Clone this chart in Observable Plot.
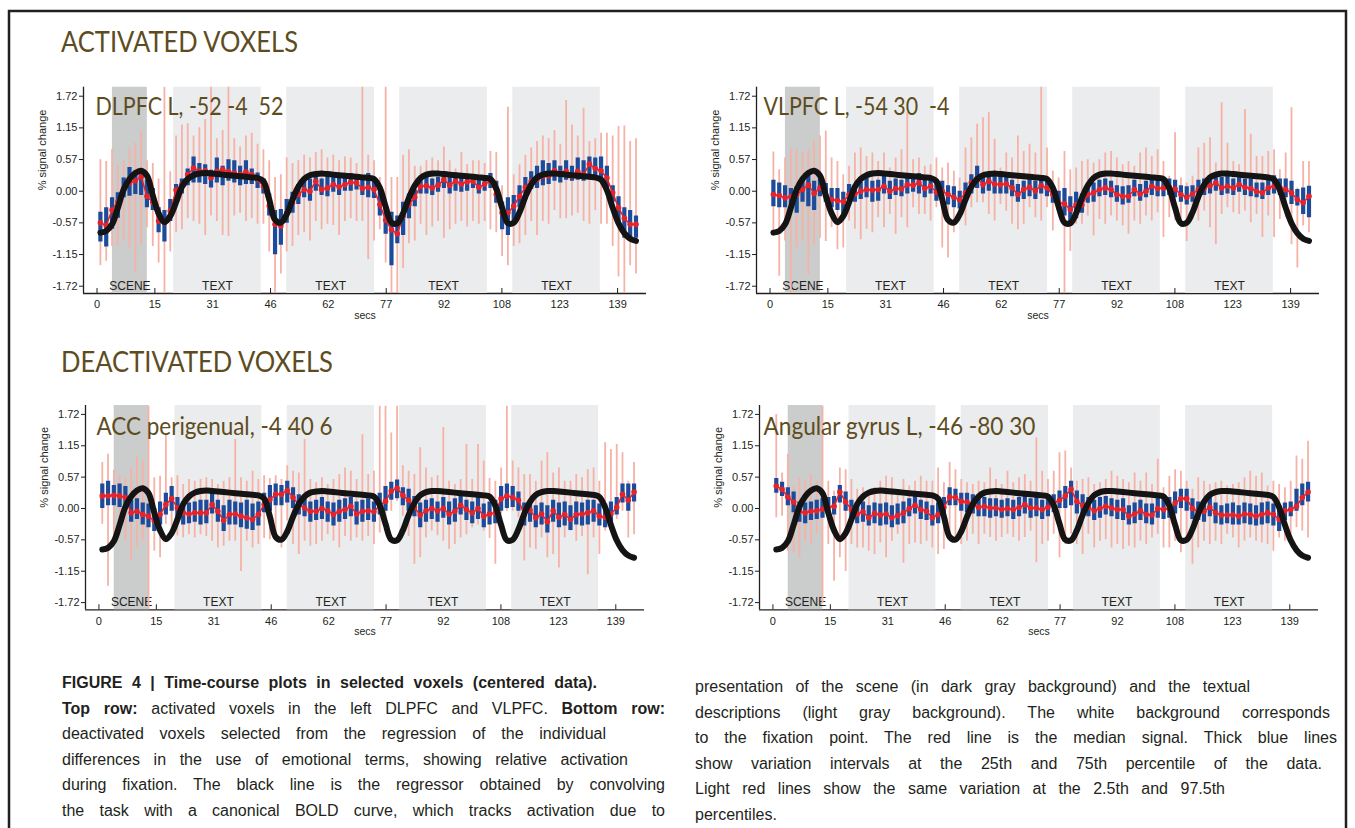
<!DOCTYPE html>
<html>
<head>
<meta charset="utf-8">
<script src="https://cdn.jsdelivr.net/npm/d3@7"></script>
<script src="https://cdn.jsdelivr.net/npm/@observablehq/plot@0.6"></script>
<style>
  html, body { margin: 0; padding: 0; background: #fff; }
  #page { position: relative; width: 1355px; height: 828px; overflow: hidden; background: #fff; }
  .abs { position: absolute; }
  .cap { position: absolute; font-family: "Liberation Sans", Arial, sans-serif; font-size: 16px; line-height: 20px;
         color: #231f20; white-space: nowrap; text-align: justify; text-align-last: justify; }
  .cap.nj { text-align: left; text-align-last: left; }
  .cap b { font-weight: bold; }
</style>
</head>
<body>
<div id="page">
  <svg class="abs" style="left:0;top:0" width="1355" height="828">
    <path d="M9,840 V11 H1346 V840" fill="none" stroke="#231f20" stroke-width="2.5"/>
    <text x="61" y="52" font-family="Lato" font-size="28" fill="#5e4c21" textLength="237" lengthAdjust="spacingAndGlyphs">ACTIVATED VOXELS</text>
    <text x="61" y="372" font-family="Lato" font-size="28" fill="#5e4c21" textLength="272" lengthAdjust="spacingAndGlyphs">DEACTIVATED VOXELS</text>
  </svg>
  <div id="p1" class="abs" style="left:0px;top:80px"></div>
  <div id="p2" class="abs" style="left:673px;top:80px"></div>
  <div id="p3" class="abs" style="left:2px;top:398px"></div>
  <div id="p4" class="abs" style="left:676px;top:398px"></div>

  <div class="cap" style="left:62px;top:673px;width:535px"><b>FIGURE 4 | Time-course plots in selected voxels (centered data).</b></div>
  <div class="cap" style="left:62px;top:699px;width:603px"><b>Top row:</b> activated voxels in the left DLPFC and VLPFC. <b>Bottom row:</b></div>
  <div class="cap" style="left:62px;top:724px;width:544px">deactivated voxels selected from the regression of the individual</div>
  <div class="cap" style="left:62px;top:750px;width:566px">differences in the use of emotional terms, showing relative activation</div>
  <div class="cap" style="left:62px;top:775px;width:603px">during fixation. The black line is the regressor obtained by convolving</div>
  <div class="cap" style="left:62px;top:801px;width:603px">the task with a canonical BOLD curve, which tracks activation due to</div>

  <div class="cap" style="left:695px;top:677px;width:555px">presentation of the scene (in dark gray background) and the textual</div>
  <div class="cap" style="left:695px;top:703px;width:635px">descriptions (light gray background). The white background corresponds</div>
  <div class="cap" style="left:695px;top:728px;width:642px">to the fixation point. The red line is the median signal. Thick blue lines</div>
  <div class="cap" style="left:695px;top:754px;width:627px">show variation intervals at the 25th and 75th percentile of the data.</div>
  <div class="cap" style="left:695px;top:779px;width:530px">Light red lines show the same variation at the 2.5th and 97.5th</div>
  <div class="cap nj" style="left:695px;top:805px">percentiles.</div>
</div>
<script>
// ---------- data ----------
const time = [0.9,2.45,4.0,5.55,7.1,8.65,10.2,11.75,13.3,14.85,
16.4,17.95,19.5,21.05,22.6,24.15,25.7,27.25,28.8,30.35,
31.9,33.45,35.0,36.55,38.1,39.65,41.2,42.75,44.3,45.85,
47.4,48.95,50.5,52.05,53.6,55.15,56.7,58.25,59.8,61.35,
62.9,64.45,66.0,67.55,69.1,70.65,72.2,73.75,75.3,76.85,
78.4,79.95,81.5,83.05,84.6,86.15,87.7,89.25,90.8,92.35,
93.9,95.45,97.0,98.55,100.1,101.65,103.2,104.75,106.3,107.85,
109.4,110.95,112.5,114.05,115.6,117.15,118.7,120.25,121.8,123.35,
124.9,126.45,128.0,129.55,131.1,132.65,134.2,135.75,137.3,138.85,
140.4,141.95,143.5];

const regressor = [-0.75,-0.72,-0.60,-0.30,0.03,0.22,0.33,0.37,0.28,-0.08,
-0.40,-0.56,-0.45,-0.20,0.08,0.22,0.29,0.32,0.33,0.32,
0.31,0.30,0.29,0.28,0.27,0.26,0.25,0.24,0.18,-0.15,
-0.52,-0.57,-0.42,-0.15,0.08,0.22,0.29,0.31,0.32,0.31,
0.30,0.29,0.28,0.27,0.26,0.25,0.24,0.22,0.06,-0.28,
-0.57,-0.58,-0.40,-0.12,0.10,0.24,0.30,0.32,0.32,0.31,
0.30,0.29,0.28,0.27,0.26,0.25,0.24,0.22,0.05,-0.30,
-0.58,-0.57,-0.38,-0.10,0.12,0.25,0.30,0.32,0.32,0.31,
0.30,0.29,0.28,0.27,0.26,0.25,0.21,0.02,-0.30,-0.58,
-0.76,-0.86,-0.90];

// DLPFC L
const dlpfcMed = [-0.57,-0.62,-0.34,-0.19,0.05,0.15,0.19,0.26,-0.09,-0.20,
-0.54,-0.57,-0.36,0.02,0.12,0.30,0.42,0.36,0.37,0.24,
0.36,0.39,0.35,0.33,0.30,0.35,0.30,0.21,0.09,-0.27,
-0.60,-0.63,-0.39,-0.21,-0.06,0.03,0.00,0.18,0.03,0.06,
0.12,0.08,0.12,0.16,0.15,0.05,0.07,0.03,-0.24,-0.52,
-0.70,-0.77,-0.45,-0.24,-0.11,0.09,0.10,0.06,0.11,0.21,
0.11,0.18,0.13,0.17,0.18,0.07,0.13,0.18,-0.06,-0.39,
-0.39,-0.27,-0.09,0.07,0.18,0.21,0.27,0.28,0.37,0.33,
0.36,0.27,0.36,0.30,0.49,0.41,0.37,0.24,-0.03,-0.30,
-0.49,-0.60,-0.60];
const dlpfcQ3 = [-0.38,-0.30,-0.12,-0.03,0.24,0.43,0.36,0.40,0.20,0.05,
-0.30,-0.35,-0.15,0.12,0.22,0.40,0.62,0.50,0.48,0.38,
0.60,0.45,0.57,0.55,0.45,0.55,0.40,0.33,0.22,-0.05,
-0.35,-0.33,-0.15,-0.02,0.12,0.20,0.22,0.30,0.22,0.25,
0.30,0.25,0.32,0.32,0.30,0.28,0.32,0.22,-0.02,-0.33,
-0.38,-0.45,-0.20,-0.05,0.02,0.25,0.25,0.22,0.25,0.35,
0.30,0.33,0.28,0.30,0.30,0.28,0.28,0.32,0.18,-0.20,
-0.12,-0.08,0.10,0.25,0.35,0.45,0.55,0.50,0.55,0.45,
0.55,0.45,0.60,0.55,0.62,0.60,0.62,0.45,0.10,-0.10,
-0.30,-0.35,-0.45];
const dlpfcQ1 = [-0.92,-1.01,-0.69,-0.49,-0.12,-0.09,-0.06,-0.08,-0.30,-0.35,
-0.75,-0.92,-0.55,-0.15,-0.05,0.10,0.15,0.15,0.12,0.06,
0.15,0.10,0.18,0.15,0.10,0.12,0.12,0.05,-0.05,-0.45,
-1.15,-0.98,-0.58,-0.40,-0.24,-0.12,-0.18,0.00,-0.08,-0.10,
-0.02,-0.08,0.00,0.00,0.02,-0.08,-0.12,-0.13,-0.45,-0.78,
-1.35,-0.95,-0.80,-0.50,-0.28,-0.05,-0.05,-0.08,-0.02,0.05,
-0.05,0.00,-0.02,0.00,0.05,-0.05,0.00,0.05,-0.22,-0.70,
-0.80,-0.55,-0.30,-0.05,0.03,0.05,0.10,0.12,0.18,0.15,
0.20,0.18,0.20,0.18,0.25,0.20,0.18,0.05,-0.20,-0.60,
-0.85,-0.90,-0.85];
const dlpfcHi = [0.57,0.54,0.75,0.45,0.55,0.78,0.87,1.09,0.55,0.50,
0.22,1.90,0.35,1.00,1.20,1.22,1.00,1.15,1.30,1.90,
0.95,1.10,1.90,0.95,0.80,1.00,1.05,0.85,0.75,0.55,
0.25,0.30,0.60,0.50,0.55,0.65,0.60,0.70,0.75,0.60,
0.65,0.55,0.62,0.60,0.50,1.90,0.65,0.55,0.25,1.90,
0.25,0.25,0.65,0.75,0.45,0.45,0.55,0.60,0.55,0.80,
0.55,0.40,0.70,0.48,0.55,0.55,0.50,0.72,0.70,0.10,
1.52,0.30,0.48,0.65,0.78,0.90,1.00,0.95,1.10,0.85,
1.64,1.20,1.00,1.50,0.90,0.95,1.05,1.05,1.00,1.17,
1.18,0.90,0.95];
const dlpfcLo = [-1.35,-1.27,-1.00,-1.00,-0.88,-1.03,-1.48,-0.97,-0.66,-1.00,
-1.30,-1.90,-1.10,-0.75,-0.70,-0.50,-0.55,-0.60,-0.80,-0.45,
-0.55,-0.80,-0.82,-0.45,-0.40,-0.55,-0.50,-0.60,-0.60,-1.10,
-1.90,-1.50,-1.10,-1.00,-0.80,-0.75,-0.90,-0.55,-0.70,-0.60,
-0.62,-0.80,-0.55,-0.50,-0.55,-0.55,-1.24,-0.90,-0.70,-1.30,
-1.90,-1.90,-1.40,-0.95,-0.90,-0.60,-0.80,-0.65,-0.55,-0.85,
-0.70,-0.60,-0.55,-0.65,-0.55,-0.60,-0.55,-0.70,-0.75,-1.18,
-1.35,-1.00,-0.95,-0.80,-0.55,-0.80,-0.55,-0.60,-0.35,-0.50,
-0.50,-0.45,-0.40,-0.55,-0.60,-0.35,-0.60,-0.60,-1.00,-1.55,
-1.90,-1.35,-1.50];

// VLPFC L
const vlpfcMed = [-0.06,-0.08,-0.12,-0.10,-0.06,0.03,0.11,-0.04,0.06,-0.08,
-0.15,-0.17,-0.19,-0.06,-0.05,0.00,0.03,0.02,0.03,0.09,
0.00,0.05,0.04,0.12,0.11,0.15,0.05,0.09,-0.02,0.00,
-0.06,-0.11,-0.16,-0.03,0.15,0.24,0.12,0.18,0.13,0.12,
0.13,0.06,-0.06,0.03,0.07,0.01,0.10,0.06,-0.06,-0.21,
-0.23,-0.33,-0.24,-0.25,-0.06,-0.03,0.03,0.06,0.03,-0.06,
-0.09,-0.09,0.03,-0.05,0.00,0.09,0.05,0.06,0.07,0.04,
-0.06,-0.11,-0.05,0.03,0.06,0.10,0.15,0.06,0.09,0.06,
0.12,0.07,0.05,0.00,-0.03,0.06,0.09,0.07,0.03,-0.03,
-0.15,-0.21,-0.09];
const vlpfcQ3 = [0.20,0.15,0.10,0.05,0.08,0.22,0.28,0.18,0.22,0.14,
0.05,0.05,-0.02,0.12,0.10,0.16,0.25,0.18,0.20,0.28,
0.18,0.22,0.20,0.30,0.25,0.32,0.22,0.25,0.15,0.18,
0.10,0.08,0.00,0.15,0.30,0.45,0.28,0.32,0.28,0.30,
0.30,0.20,0.12,0.18,0.22,0.18,0.25,0.22,0.10,0.00,
0.05,-0.10,-0.02,-0.05,0.12,0.15,0.20,0.22,0.18,0.10,
0.08,0.10,0.20,0.12,0.18,0.25,0.22,0.20,0.22,0.20,
0.10,0.08,0.10,0.20,0.22,0.28,0.32,0.25,0.28,0.22,
0.30,0.22,0.22,0.15,0.15,0.22,0.28,0.22,0.22,0.18,
0.03,0.06,0.09];
const vlpfcQ1 = [-0.28,-0.30,-0.30,-0.25,-0.40,-0.20,-0.28,-0.35,-0.10,-0.20,
-0.30,-0.35,-0.45,-0.25,-0.20,-0.15,-0.12,-0.20,-0.18,-0.05,
-0.15,-0.08,-0.10,-0.05,-0.02,-0.05,-0.12,-0.05,-0.18,-0.15,
-0.25,-0.30,-0.32,-0.18,-0.05,0.05,-0.05,0.00,-0.05,-0.05,
-0.05,-0.10,-0.20,-0.15,-0.10,-0.15,-0.05,-0.10,-0.22,-0.35,
-0.45,-0.60,-0.50,-0.40,-0.22,-0.20,-0.10,-0.08,-0.12,-0.20,
-0.25,-0.22,-0.10,-0.18,-0.12,-0.08,-0.10,-0.10,-0.08,-0.12,
-0.20,-0.25,-0.20,-0.10,-0.08,-0.05,0.00,-0.08,-0.05,-0.08,
-0.02,-0.08,-0.10,-0.12,-0.15,-0.08,-0.05,-0.08,-0.12,-0.24,
-0.27,-0.42,-0.48];
const vlpfcHi = [0.71,0.39,0.60,0.78,0.75,0.70,0.75,0.91,1.00,1.09,
0.60,0.54,0.30,0.45,0.69,0.78,0.63,0.69,0.54,0.69,
0.42,0.60,0.75,1.42,0.57,0.60,0.45,0.48,0.60,0.42,
0.51,0.36,0.24,0.78,0.97,1.21,1.33,1.42,0.94,0.42,
0.69,0.60,1.00,0.72,0.85,0.69,1.90,0.78,0.36,0.24,
0.72,0.39,0.42,0.54,0.57,0.51,0.57,0.69,0.72,0.60,
0.48,0.54,0.45,0.69,0.78,0.63,0.75,0.54,0.27,1.06,
0.24,0.15,0.27,0.78,0.87,0.97,0.51,1.60,0.87,0.54,
0.48,1.48,1.03,0.63,0.63,0.72,0.75,0.39,0.69,1.51,
0.06,0.54,0.54];
const vlpfcLo = [-0.75,-1.54,-0.90,-1.87,-1.03,-0.90,-1.51,-0.97,-0.85,-0.91,
-0.66,-1.06,-1.03,-0.54,-0.69,-0.88,-0.69,-0.75,-0.48,-0.66,
-0.42,-0.78,-0.48,-0.66,-0.30,-0.42,-0.42,-0.54,-0.30,-1.03,
-1.21,-0.75,-0.54,-0.63,-0.30,-0.21,-0.21,-0.42,-0.54,-0.24,
-0.36,-0.60,-0.70,-0.60,-0.30,-0.48,-0.54,-0.30,-0.72,-0.42,
-1.90,-1.09,-0.60,-0.60,-0.45,-0.81,-0.51,-0.60,-0.45,-0.54,
-0.63,-0.78,-0.54,-0.60,-0.45,-0.54,-0.39,-0.84,-0.48,-0.54,
-0.66,-0.91,-0.51,-0.54,-0.36,-0.66,-0.97,-0.42,-0.30,-0.39,
-0.42,-0.36,-0.57,-0.42,-0.84,-0.45,-0.84,-0.51,-0.48,-0.97,
-1.39,-0.63,-0.75];

// ACC perigenual
const accMed = [0.23,0.23,0.24,0.23,0.20,-0.08,-0.05,-0.11,-0.14,-0.23,
-0.11,0.07,0.18,0.01,-0.08,-0.10,-0.08,-0.08,-0.08,0.07,
-0.05,-0.22,-0.11,-0.10,-0.14,-0.17,-0.20,-0.11,0.07,0.16,
0.26,0.26,0.33,0.20,0.07,0.01,-0.05,-0.05,0.00,-0.04,
-0.11,-0.05,-0.02,0.04,-0.10,-0.05,-0.04,-0.06,0.06,0.13,
0.32,0.37,0.24,0.15,0.02,-0.12,-0.04,0.00,-0.04,0.00,
-0.10,-0.05,0.06,-0.02,-0.08,0.00,-0.14,-0.10,-0.08,0.18,
0.23,0.20,0.15,-0.11,-0.03,-0.17,-0.10,-0.24,-0.04,-0.16,
-0.11,-0.20,-0.11,-0.10,-0.08,-0.04,-0.14,-0.16,-0.10,0.02,
0.26,0.15,0.30];
const accQ3 = [0.45,0.50,0.42,0.45,0.40,0.15,0.18,0.10,0.08,0.00,
0.12,0.28,0.40,0.20,0.12,0.10,0.12,0.15,0.15,0.28,
0.15,0.05,0.15,0.12,0.10,0.15,0.08,0.12,0.28,0.42,
0.45,0.42,0.50,0.38,0.25,0.18,0.12,0.15,0.20,0.12,
0.10,0.15,0.18,0.20,0.12,0.15,0.18,0.12,0.28,0.40,
0.48,0.52,0.38,0.35,0.22,0.10,0.15,0.18,0.12,0.20,
0.12,0.18,0.25,0.15,0.12,0.20,0.08,0.12,0.15,0.40,
0.45,0.40,0.30,0.10,0.12,0.05,0.10,0.05,0.15,0.10,
0.12,0.05,0.12,0.10,0.15,0.15,0.08,0.08,0.12,0.20,
0.45,0.45,0.45];
const accQ1 = [0.00,0.05,0.05,0.02,0.00,-0.25,-0.20,-0.30,-0.35,-0.42,
-0.30,-0.12,-0.05,-0.18,-0.30,-0.28,-0.25,-0.30,-0.28,-0.10,
-0.25,-0.42,-0.30,-0.30,-0.35,-0.38,-0.40,-0.32,-0.08,-0.05,
0.05,0.05,0.10,0.00,-0.12,-0.15,-0.25,-0.22,-0.20,-0.25,
-0.32,-0.25,-0.20,-0.15,-0.30,-0.25,-0.22,-0.25,-0.12,-0.05,
0.15,0.18,0.05,-0.05,-0.15,-0.35,-0.25,-0.20,-0.25,-0.18,
-0.30,-0.25,-0.12,-0.22,-0.28,-0.20,-0.35,-0.30,-0.28,-0.05,
0.00,0.02,-0.05,-0.32,-0.25,-0.35,-0.30,-0.45,-0.25,-0.35,
-0.32,-0.40,-0.30,-0.32,-0.30,-0.25,-0.32,-0.35,-0.30,-0.12,
0.10,-0.05,0.12];
const accHi = [0.84,0.99,0.70,0.60,0.56,0.74,0.96,0.87,1.87,0.56,
0.59,1.35,0.56,0.60,0.44,0.53,0.50,0.53,0.56,0.53,
0.44,0.50,0.56,1.26,0.56,0.50,0.68,0.53,0.60,0.55,
0.60,0.53,0.78,0.68,0.65,1.26,0.53,0.47,0.56,0.44,
0.53,0.62,0.74,0.68,0.53,1.35,0.62,0.68,1.87,1.87,
1.38,1.87,0.78,0.68,0.62,1.11,0.74,0.56,0.60,1.48,
0.50,0.44,0.53,1.17,0.53,1.17,0.87,0.55,0.50,0.74,
1.87,0.87,0.74,0.62,0.62,0.50,0.87,1.02,0.65,0.74,
0.50,0.50,0.62,0.56,0.71,0.74,0.50,1.20,1.08,1.17,
1.02,0.50,0.84];
const accLo = [-0.29,-1.42,-0.55,-0.50,-0.60,-0.96,-0.72,-0.60,-1.94,-0.78,
-0.90,-0.29,-0.45,-0.50,-0.54,-0.48,-0.54,-0.48,-0.51,-0.60,
-0.72,-0.69,-0.60,-0.60,-1.15,-0.60,-0.72,-0.66,-0.55,-0.57,
-0.60,-0.72,-0.23,-0.66,-0.84,-0.60,-0.69,-0.66,-0.60,-0.48,
-0.60,-0.72,-0.51,-0.60,-0.54,-0.60,-0.51,-0.66,-0.45,-0.23,
-0.05,0.13,-0.14,-0.51,-1.02,-0.90,-0.54,-0.41,-0.50,-0.60,
-0.75,-0.66,-0.54,-0.48,-0.35,-0.30,-0.41,-0.55,-1.02,-0.10,
-0.05,-0.05,-0.17,-0.96,-0.72,-0.75,-0.54,-0.90,-0.84,-1.09,
-0.54,-0.41,-0.60,-0.51,-1.21,-0.54,-0.84,-0.41,-0.40,-0.20,
-0.05,-0.54,-0.48];

// Angular gyrus L
const angMed = [0.41,0.35,0.21,0.12,-0.05,-0.08,-0.05,-0.04,-0.01,0.02,
0.04,0.30,0.12,-0.02,-0.10,-0.06,-0.17,-0.09,-0.12,-0.10,
-0.17,-0.13,-0.08,0.00,0.06,-0.02,-0.05,-0.17,-0.11,0.02,
0.21,0.20,0.13,0.12,0.07,0.02,0.04,0.01,0.01,-0.02,
0.00,-0.02,0.02,0.07,0.01,0.01,-0.02,0.02,0.10,0.15,
0.23,0.35,0.13,0.06,0.02,-0.04,0.00,0.04,0.01,-0.02,
-0.02,-0.14,-0.10,-0.04,-0.11,-0.12,0.00,-0.02,0.00,0.10,
0.18,0.18,0.00,-0.05,-0.05,0.02,-0.08,-0.12,-0.12,-0.12,
-0.14,-0.10,-0.11,-0.14,-0.11,-0.08,-0.11,-0.20,-0.04,-0.02,
0.04,0.20,0.30];
const angQ3 = [0.55,0.48,0.38,0.30,0.12,0.10,0.12,0.15,0.18,0.20,
0.22,0.42,0.30,0.15,0.08,0.12,0.05,0.10,0.08,0.10,
0.05,0.08,0.12,0.18,0.22,0.15,0.12,0.05,0.10,0.20,
0.38,0.35,0.28,0.28,0.25,0.18,0.20,0.18,0.18,0.15,
0.18,0.15,0.20,0.22,0.18,0.20,0.15,0.20,0.25,0.32,
0.40,0.50,0.32,0.25,0.20,0.15,0.20,0.22,0.18,0.15,
0.18,0.05,0.10,0.15,0.08,0.08,0.20,0.18,0.20,0.30,
0.35,0.35,0.18,0.12,0.15,0.22,0.10,0.05,0.08,0.10,
0.05,0.10,0.08,0.05,0.10,0.12,0.08,0.05,0.10,0.12,
0.35,0.45,0.48];
const angQ1 = [0.28,0.22,0.05,-0.08,-0.25,-0.28,-0.22,-0.20,-0.18,-0.12,
-0.12,0.10,-0.05,-0.18,-0.28,-0.25,-0.32,-0.28,-0.32,-0.30,
-0.35,-0.30,-0.28,-0.15,-0.10,-0.20,-0.22,-0.32,-0.28,-0.15,
0.05,0.05,-0.05,-0.08,-0.10,-0.15,-0.15,-0.18,-0.15,-0.18,
-0.15,-0.20,-0.15,-0.10,-0.18,-0.15,-0.20,-0.15,-0.08,0.00,
0.00,0.05,-0.10,-0.10,-0.15,-0.22,-0.18,-0.12,-0.15,-0.20,
-0.22,-0.30,-0.28,-0.22,-0.28,-0.30,-0.18,-0.20,-0.18,-0.10,
0.00,-0.05,-0.20,-0.22,-0.25,-0.15,-0.28,-0.30,-0.28,-0.30,
-0.30,-0.28,-0.30,-0.32,-0.30,-0.28,-0.32,-0.42,-0.22,-0.15,
-0.05,0.05,0.12];
const angHi = [1.72,0.65,0.99,0.41,0.56,0.50,0.62,0.50,1.87,0.50,
0.32,0.74,0.71,0.53,0.35,0.38,0.26,0.38,0.50,0.59,
0.56,0.26,0.53,0.41,0.50,0.59,0.50,0.50,0.74,0.47,
0.84,0.71,0.53,0.47,0.44,0.50,0.47,0.74,0.53,0.44,
0.68,0.47,0.56,0.62,0.50,1.29,0.68,0.53,0.68,1.02,
1.05,0.74,0.50,0.53,0.56,0.44,0.47,0.53,0.68,0.59,
0.53,0.47,0.65,0.50,0.65,0.44,0.90,0.38,0.59,0.71,
0.68,0.50,0.35,0.56,0.50,0.44,0.47,0.50,0.41,0.44,
0.47,0.56,0.68,0.59,0.65,0.41,0.50,0.44,0.38,0.50,
0.96,0.90,1.23];
const angLo = [-0.17,-0.14,-0.78,-0.81,-0.90,-0.60,-0.66,-0.48,-1.73,-0.66,
-1.33,-0.90,-1.15,-0.66,-0.72,-0.72,-0.78,-0.84,-0.63,-0.90,
-0.60,-0.47,-1.00,-0.66,-0.63,-0.66,-0.60,-0.72,-0.84,-0.75,
-0.47,-0.60,-0.66,-0.60,-0.47,-0.66,-0.47,-0.53,-0.60,-0.53,
-0.47,-0.53,-0.60,-0.53,-0.41,-0.99,-0.66,-0.60,-0.47,-0.90,
-0.66,-0.47,-0.66,-0.84,-0.47,-0.72,-0.60,-0.57,-0.72,-0.66,
-0.75,-0.69,-0.72,-0.60,-0.66,-0.54,-0.47,-0.72,-0.72,-0.60,
-0.81,-0.54,-1.02,-0.72,-0.60,-0.66,-0.60,-0.66,-0.47,-0.54,
-0.72,-0.60,-0.54,-0.60,-0.63,-0.66,-0.78,-0.54,-0.60,-0.47,
-0.35,-0.41,-0.54];

// axes and design blocks
const xTickVals = [0, 15.4, 30.8, 46.2, 61.6, 77, 92.4, 107.8, 123.2, 138.6];
const xTickLabels = ["0","15","31","46","62","77","92","108","123","139"];
const yTickVals = [-1.72, -1.1467, -0.5733, 0, 0.5733, 1.1467, 1.72];
const yTickLabels = ["-1.72","-1.15","-0.57","0.00","0.57","1.15","1.72"];
const blockStart = [4.1, 20.4, 50.5, 80.6, 110.7];
const blockEnd = [13.4, 43.7, 73.9, 103.9, 134.0];
const blockLabel = ["SCENE","TEXT","TEXT","TEXT","TEXT"];

const panelTitles = ["DLPFC L, -52 -4\u00a0\u00a052", "VLPFC L, -54 30\u00a0\u00a0-4", "ACC perigenual, -4 40 6", "Angular gyrus L, -46 -80 30"];

// ---------- drawing ----------
const ink = "#231f20";
const axisFont = "'Liberation Sans', Arial, Helvetica, sans-serif";
const xDom = [-3.6, 146.3];
const yDom = [-1.852, 1.883];

function drawPanel(target, cfg) {
  const rows = time.map((t, i) => ({t, med: cfg.med[i], q1: cfg.q1[i], q3: cfg.q3[i], lo: cfg.lo[i], hi: cfg.hi[i], reg: regressor[i]}));
  const blocks = blockLabel.map((k, i) => ({start: blockStart[i], end: blockEnd[i], label: k}));
  const chart = Plot.plot({
    width: cfg.w, height: 250,
    marginLeft: 83, marginRight: 14, marginTop: cfg.mt, marginBottom: cfg.mb,
    x: {domain: xDom, label: null},
    y: {domain: yDom, label: null},
    style: {background: "transparent", color: ink, fontFamily: axisFont, overflow: "visible"},
    marks: [
      Plot.ruleY([yDom[0]], {stroke: ink, strokeWidth: 1.3}),
      Plot.axisX({ticks: xTickVals, tickSize: 0, tickPadding: 7, label: null, fontSize: 11, fill: ink,
                  tickFormat: d => xTickLabels[xTickVals.indexOf(d)]}),
      Plot.axisX({ticks: xTickVals, tickSize: 5, dy: -5, label: null, stroke: ink, tickFormat: () => ""}),
      Plot.rect(blocks.filter(b => b.label === "SCENE"), {x1: "start", x2: "end", fill: "#cbcccc"}),
      Plot.rect(blocks.filter(b => b.label !== "SCENE"), {x1: "start", x2: "end", fill: "#ebeced"}),
      Plot.ruleX([xDom[0]], {stroke: ink, strokeWidth: 1.3}),
      Plot.axisY({ticks: yTickVals, tickSize: 4, tickPadding: 2, label: null, fontSize: 11, fill: ink, stroke: ink,
                  tickFormat: d => yTickLabels[yTickVals.indexOf(d)]}),
      Plot.text(blocks, {x: d => (d.start + d.end) / 2, y: -1.72, text: "label", fontSize: 12,
                         fontFamily: "'Liberation Sans Narrow', 'Liberation Sans', Arial", fill: ink}),
      Plot.ruleX(rows, {x: "t", y1: "lo", y2: "hi", stroke: "#f6b2a6", strokeWidth: 1.8, clip: true}),
      Plot.ruleX(rows, {x: "t", y1: "q1", y2: "q3", stroke: "#1e4a9a", strokeWidth: 4.2, clip: true}),
      Plot.line(rows, {x: "t", y: "med", stroke: "#e6232b", strokeWidth: 1.6}),
      Plot.dot(rows, {x: "t", y: "med", r: 2.8, fill: "#e6232b"}),
      Plot.line(rows, {x: "t", y: "reg", stroke: "#141414", strokeWidth: 6, curve: "catmull-rom", strokeLinecap: "round"}),
      Plot.text([cfg.title], {frameAnchor: "top-left", dx: cfg.tdx, dy: cfg.tdy, text: d => d, textAnchor: "start",
                              lineAnchor: "top", fontSize: 24.5, fontFamily: "Lato", fill: "#5e4c21"}),
      Plot.text(["% signal change"], {frameAnchor: "left", dx: -41, rotate: -90, text: d => d, fontSize: 11, fill: ink}),
      Plot.text(["secs"], {frameAnchor: "bottom", dy: 25, text: d => d, fontSize: 10.5, fill: ink})
    ]
  });
  // fit the panel title to the width it has in the original figure
  chart.querySelectorAll("text").forEach(el => {
    if (el.textContent === cfg.title) {
      el.setAttribute("textLength", cfg.tlen);
      el.setAttribute("lengthAdjust", "spacingAndGlyphs");
    }
  });
  document.getElementById(target).appendChild(chart);
}

drawPanel("p1", {w: 660, mt: 6.7, mb: 37, title: panelTitles[0], tdx: 12, tdy: 10, tlen: 188,
  med: dlpfcMed, q1: dlpfcQ1, q3: dlpfcQ3, lo: dlpfcLo, hi: dlpfcHi});
drawPanel("p2", {w: 660, mt: 6.7, mb: 37, title: panelTitles[1], tdx: 7, tdy: 10, tlen: 186,
  med: vlpfcMed, q1: vlpfcQ1, q3: vlpfcQ3, lo: vlpfcLo, hi: vlpfcHi});
drawPanel("p3", {w: 656, mt: 7, mb: 38.7, title: panelTitles[2], tdx: 11, tdy: 11.7, tlen: 236,
  med: accMed, q1: accQ1, q3: accQ3, lo: accLo, hi: accHi});
drawPanel("p4", {w: 656, mt: 7, mb: 38.7, title: panelTitles[3], tdx: 4, tdy: 11.7, tlen: 272,
  med: angMed, q1: angQ1, q3: angQ3, lo: angLo, hi: angHi});
</script>
</body>
</html>
